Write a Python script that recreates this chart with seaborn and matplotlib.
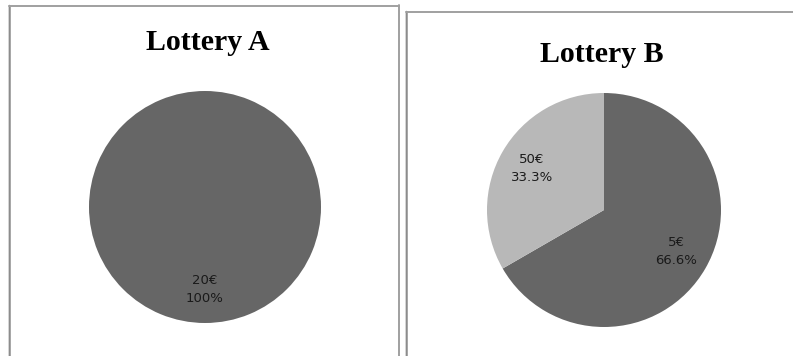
import matplotlib
matplotlib.use("Agg")
import matplotlib.pyplot as plt
import seaborn as sns
from matplotlib.lines import Line2D

sns.set_theme(style="white")
plt.rcParams["font.family"] = ["DejaVu Sans"]

# -----------------------
# Data
# -----------------------
lottery_a_labels = ["20€"]
lottery_a_shares = [100]

lottery_b_labels = ["5€", "50€"]
lottery_b_shares = [66.6, 33.3]

titles = ["Lottery A", "Lottery B"]

slice_colors = ["#666666", "#b8b8b8"]

W, H = 793, 356
fig = plt.figure(figsize=(W / 100, H / 100), dpi=100)
fig.patch.set_facecolor("white")


def px_axes(cx, cy, r):
    # axes box (in figure fractions) for a pie centred at pixel (cx, cy)
    return [(cx - r) / W, (H - cy - r) / H, 2 * r / W, 2 * r / H]


def draw_pie(ax, labels, shares):
    text_labels = [f"{l}\n{s:g}%" for l, s in zip(labels, shares)]
    wedges, texts = ax.pie(shares, labels=text_labels, colors=slice_colors[:len(shares)],
                           startangle=90, counterclock=False, labeldistance=0.71,
                           wedgeprops=dict(linewidth=0),
                           textprops=dict(fontsize=9.5, color="#1a1a1a", linespacing=1.45))
    for t in texts:
        t.set_ha("center")
        t.set_va("center")
    ax.set_xlim(-1.0, 1.0)
    ax.set_ylim(-1.0, 1.0)
    ax.set_aspect("equal")
    ax.axis("off")


ax_a = fig.add_axes(px_axes(205, 207, 116))
draw_pie(ax_a, lottery_a_labels, lottery_a_shares)

ax_b = fig.add_axes(px_axes(604, 210, 117))
draw_pie(ax_b, lottery_b_labels, lottery_b_shares)

# -----------------------
# Titles
# -----------------------
fig.text(207.5 / W, 1 - 50 / H, titles[0], ha="center", va="baseline", color="black",
         fontsize=21.5, fontweight="bold", family="Liberation Serif")
fig.text(601.5 / W, 1 - 62 / H, titles[1], ha="center", va="baseline", color="black",
         fontsize=21.5, fontweight="bold", family="Liberation Serif")


# -----------------------
# Panel frames
# -----------------------
def line(x0, y0, x1, y1, color, lw):
    fig.add_artist(Line2D([x0 / W, x1 / W], [1 - y0 / H, 1 - y1 / H],
                          transform=fig.transFigure, color=color, lw=lw))


line(8.5, 5, 8.5, H, "#2a2a2a", 1.0)
line(10, 5.5, 10, H, "#a0a0a0", 1.2)
line(8.5, 5.5, 399, 5.5, "#a0a0a0", 1.4)
line(399, 5, 399, H, "#a0a0a0", 1.4)

line(406, 11, 406, H, "#2a2a2a", 1.0)
line(407.5, 11.5, 407.5, H, "#a0a0a0", 1.2)
line(406, 11.5, W, 11.5, "#a0a0a0", 1.4)

fig.savefig("out.png", dpi=100, facecolor="white")
